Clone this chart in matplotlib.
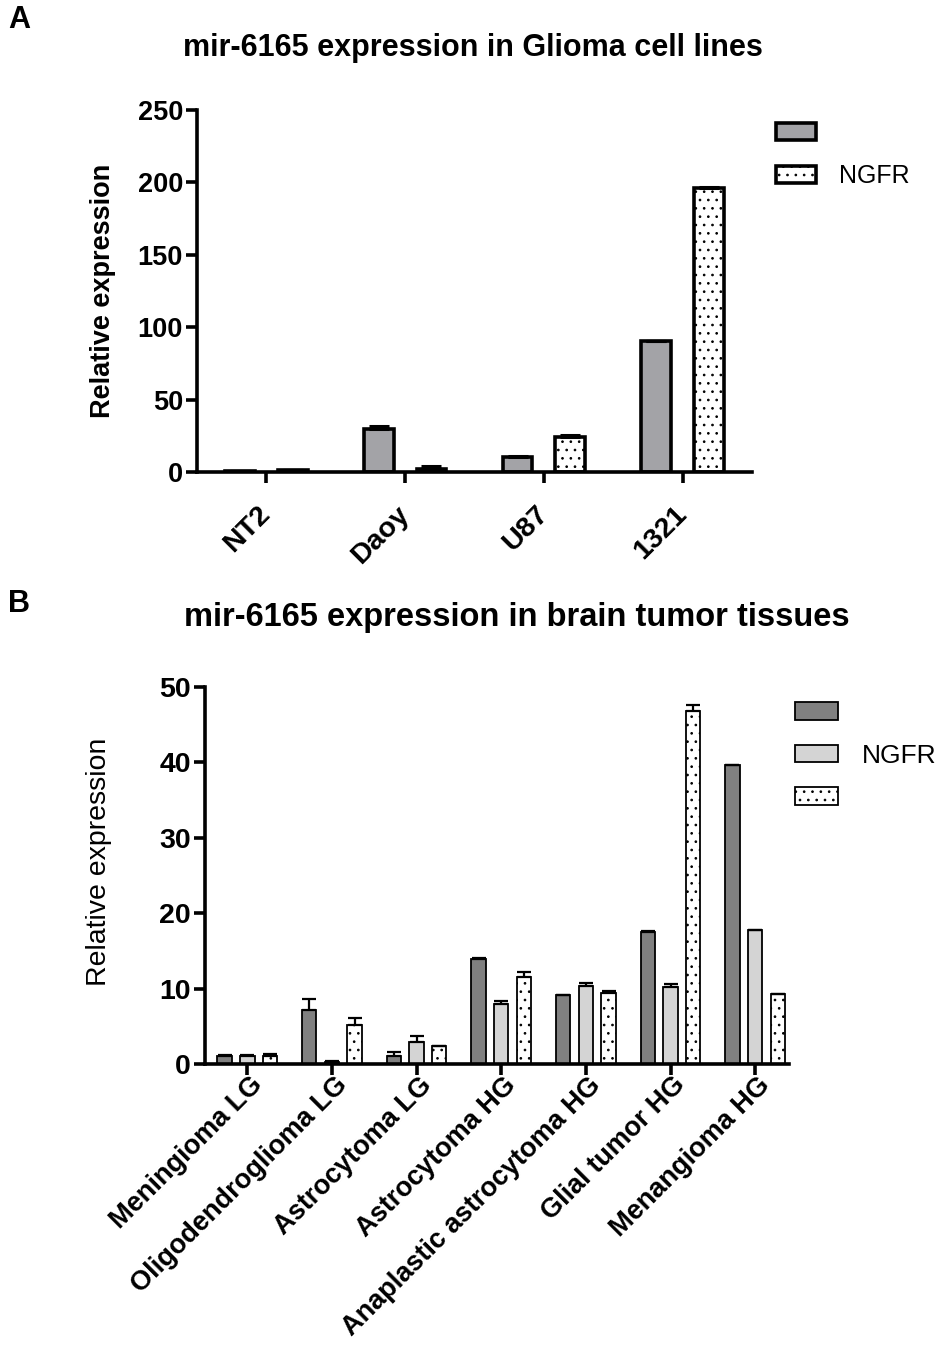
import matplotlib
matplotlib.use("Agg")
import matplotlib.pyplot as plt
from matplotlib.transforms import ScaledTranslation
import numpy as np

plt.rcParams['font.family'] = ['Liberation Sans', 'DejaVu Sans']
plt.rcParams['hatch.linewidth'] = 0.7

# ---------------- Data ----------------
cell_lines = ["NT2", "Daoy", "U87", "1321"]
a_mir = [0.6, 29.6, 10.6, 90.3]
a_mir_err = [0.2, 2.2, 0.3, 0.4]
a_ngfr = [1.2, 2.4, 23.9, 196.2]
a_ngfr_err = [0.4, 1.8, 1.6, 0.4]
a_labels = ["", "NGFR"]
a_yticks = [0, 50, 100, 150, 200, 250]

tissues = ["Meningioma LG", "Oligodendroglioma LG", "Astrocytoma LG",
           "Astrocytoma HG", "Anaplastic astrocytoma HG", "Glial tumor HG",
           "Menangioma HG"]
b_s1 = [1.0, 7.2, 1.1, 13.9, 9.1, 17.5, 39.7]
b_s1_err = [0.2, 1.4, 0.45, 0.1, 0.1, 0.1, 0.0]
b_s2 = [1.0, 0.3, 2.9, 8.0, 10.3, 10.2, 17.8]
b_s2_err = [0.2, 0.05, 0.75, 0.3, 0.45, 0.35, 0.0]
b_s3 = [1.0, 5.2, 2.4, 11.6, 9.4, 46.8, 9.3]
b_s3_err = [0.35, 0.95, 0.0, 0.65, 0.3, 0.75, 0.0]
b_labels = ["", "NGFR", ""]
b_yticks = [0, 10, 20, 30, 40, 50]

W, H = 942, 1349
fig = plt.figure(figsize=(W / 100, H / 100), dpi=100)

def fx(px):
    return px / W

def fy(py):
    return 1 - py / H

def shift_labels(labels, dx_px, dy_px):
    off = ScaledTranslation(dx_px / 100, dy_px / 100, fig.dpi_scale_trans)
    for lab in labels:
        lab.set_transform(lab.get_transform() + off)

# ---------------- Panel A ----------------
axA = fig.add_axes([fx(197), fy(472), fx(752) - fx(197), fy(110) - fy(472)])
x = np.arange(len(cell_lines))
wA = 0.215
offA = 0.19
bA1 = axA.bar(x - offA, a_mir, wA, color='#a3a3a7', edgecolor='black', linewidth=2.6,
              yerr=[np.zeros(len(a_mir)), a_mir_err], capsize=7,
              error_kw=dict(elinewidth=2.2, capthick=2.2, ecolor='black'), zorder=2)
bA2 = axA.bar(x + offA, a_ngfr, wA, color='white', edgecolor='black', linewidth=2.6,
              hatch='..', yerr=[np.zeros(len(a_ngfr)), a_ngfr_err], capsize=7,
              error_kw=dict(elinewidth=2.2, capthick=2.2, ecolor='black'), zorder=2)
axA.set_xlim(-0.5, 3.5)
axA.set_ylim(0, 250)
axA.set_yticks(a_yticks)
axA.set_xticks(x)
axA.set_xticklabels(cell_lines, rotation=45, ha='right', rotation_mode='anchor',
                    fontsize=20.5, fontweight='bold')
for lab in axA.get_yticklabels():
    lab.set_fontsize(19.5)
    lab.set_fontweight('bold')
axA.spines['top'].set_visible(False)
axA.spines['right'].set_visible(False)
for s in ['left', 'bottom']:
    axA.spines[s].set_linewidth(2.6)
axA.tick_params(axis='both', direction='out', length=8, width=2.6, pad=2)
axA.tick_params(axis='x', pad=13)
shift_labels(axA.get_xticklabels(), -9, 0)
axA.set_ylabel("Relative expression", fontsize=19.5, fontweight='bold', labelpad=16)
legA = axA.legend([bA1, bA2], a_labels, loc='upper left', bbox_to_anchor=(1.026, 0.996),
                  frameon=False, fontsize=18, handlelength=1.6, handleheight=0.68,
                  labelspacing=0.74, handletextpad=0.9, borderaxespad=0.0)

fig.text(fx(473), fy(48), "mir-6165 expression in Glioma cell lines", ha='center',
         va='center', fontsize=22, fontweight='bold')
fig.text(fx(8), fy(20), "A", ha='left', va='center', fontsize=22, fontweight='bold')

# ---------------- Panel B ----------------
axB = fig.add_axes([fx(205), fy(1064), fx(789) - fx(205), fy(687) - fy(1064)])
xb = np.arange(len(tissues))
wB = 0.17
offB = 0.268
ekw = dict(elinewidth=1.6, capthick=1.6, ecolor='black')
bB1 = axB.bar(xb - offB, b_s1, wB, color='#808080', edgecolor='black', linewidth=1.3,
              yerr=[np.zeros(7), b_s1_err], capsize=5, error_kw=ekw, zorder=2)
bB2 = axB.bar(xb, b_s2, wB, color='#d4d4d4', edgecolor='black', linewidth=1.3,
              yerr=[np.zeros(7), b_s2_err], capsize=5, error_kw=ekw, zorder=2)
bB3 = axB.bar(xb + offB, b_s3, wB, color='white', edgecolor='black', linewidth=1.3,
              hatch='..', yerr=[np.zeros(7), b_s3_err], capsize=5, error_kw=ekw, zorder=2)
axB.set_xlim(-0.5, 6.4)
axB.set_ylim(0, 50)
axB.set_yticks(b_yticks)
axB.set_xticks(xb)
axB.set_xticklabels(tissues, rotation=45, ha='right', rotation_mode='anchor',
                    fontsize=19.5, fontweight='bold')
for lab in axB.get_yticklabels():
    lab.set_fontsize(20.5)
    lab.set_fontweight('bold')
axB.spines['top'].set_visible(False)
axB.spines['right'].set_visible(False)
for s in ['left', 'bottom']:
    axB.spines[s].set_linewidth(2.6)
axB.tick_params(axis='both', direction='out', length=8, width=2.6, pad=2)
axB.tick_params(axis='x', pad=0)
shift_labels(axB.get_xticklabels(), 2, 3)
axB.set_ylabel("Relative expression", fontsize=20.5, labelpad=16)
axB.yaxis.set_label_coords(-0.16, 0.535)
legB = axB.legend([bB1, bB2, bB3], b_labels, loc='upper left', bbox_to_anchor=(0.993, 0.99),
                  frameon=False, fontsize=19, handlelength=1.6, handleheight=0.62,
                  labelspacing=0.70, handletextpad=0.9, borderaxespad=0.0)

fig.text(fx(517), fy(617), "mir-6165 expression in brain tumor tissues", ha='center',
         va='center', fontsize=23.5, fontweight='bold')
fig.text(fx(8), fy(604), "B", ha='left', va='center', fontsize=22, fontweight='bold')

fig.savefig("out.png", dpi=100)
